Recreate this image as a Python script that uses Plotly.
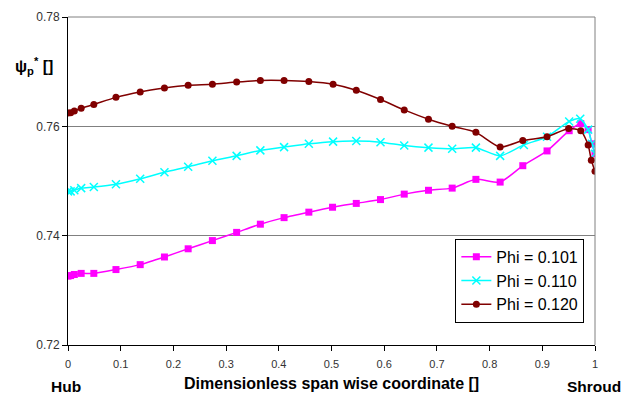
import plotly.graph_objects as go

x_101 = [0.0, 0.005, 0.012, 0.025, 0.049, 0.091, 0.137, 0.183, 0.228, 0.274, 0.320, 0.365, 0.410, 0.457,
         0.502, 0.547, 0.593, 0.638, 0.684, 0.729, 0.774, 0.820, 0.863, 0.909, 0.951, 0.973, 0.987, 0.994, 1.0]
y_101 = [0.7326, 0.7327, 0.7329, 0.7331, 0.7331, 0.7338, 0.7347, 0.7361, 0.7376, 0.7391, 0.7406, 0.7421, 0.7433, 0.7443,
         0.7452, 0.7459, 0.7466, 0.7476, 0.7483, 0.7487, 0.7503, 0.7498, 0.7528, 0.7555, 0.7592, 0.7605, 0.7594, 0.7568, 0.7550]

x_110 = [0.0, 0.005, 0.012, 0.025, 0.049, 0.091, 0.137, 0.183, 0.228, 0.274, 0.320, 0.365, 0.410, 0.457,
         0.503, 0.547, 0.593, 0.638, 0.684, 0.729, 0.774, 0.820, 0.865, 0.909, 0.951, 0.972, 0.987, 0.994, 1.0]
y_110 = [0.7481, 0.7481, 0.7483, 0.7487, 0.7489, 0.7494, 0.7504, 0.7516, 0.7526, 0.7537, 0.7546, 0.7556, 0.7562, 0.7568,
         0.7572, 0.7573, 0.7571, 0.7565, 0.7561, 0.7559, 0.7561, 0.7546, 0.7566, 0.7581, 0.7609, 0.7614, 0.7594, 0.7568, 0.7550]

x_120 = [0.0, 0.005, 0.012, 0.025, 0.049, 0.091, 0.137, 0.183, 0.228, 0.274, 0.320, 0.365, 0.410, 0.457,
         0.503, 0.547, 0.593, 0.638, 0.684, 0.729, 0.774, 0.820, 0.863, 0.909, 0.950, 0.973, 0.987, 0.993, 1.0]
y_120 = [0.76245, 0.7625, 0.7628, 0.7633, 0.7640, 0.7653, 0.7663, 0.7670, 0.7675, 0.7677, 0.7681, 0.7684, 0.7684, 0.7682,
         0.7677, 0.7666, 0.7649, 0.7630, 0.7613, 0.7600, 0.7589, 0.7562, 0.7574, 0.7581, 0.7596, 0.7592, 0.7566, 0.7538, 0.7518]

x_ticks = [0, 0.1, 0.2, 0.3, 0.4, 0.5, 0.6, 0.7, 0.8, 0.9, 1]
x_tick_labels = ["0", "0.1", "0.2", "0.3", "0.4", "0.5", "0.6", "0.7", "0.8", "0.9", "1"]
y_ticks = [0.72, 0.74, 0.76, 0.78]
y_tick_labels = ["0.72", "0.74", "0.76", "0.78"]

fig = go.Figure()
fig.add_trace(go.Scatter(x=x_101, y=y_101, name="Phi = 0.101", mode="lines+markers",
                         line=dict(color="#FF00FF", width=1.5, shape="spline", smoothing=0.6),
                         marker=dict(symbol="square", size=7, color="#FF00FF")))
fig.add_trace(go.Scatter(x=x_110, y=y_110, name="Phi = 0.110", mode="lines+markers",
                         line=dict(color="#00FFFF", width=1.5, shape="spline", smoothing=0.6),
                         marker=dict(symbol="x-thin", size=8, color="#00FFFF",
                                     line=dict(color="#00FFFF", width=1.5))))
fig.add_trace(go.Scatter(x=x_120, y=y_120, name="Phi = 0.120", mode="lines+markers",
                         line=dict(color="#800000", width=1.5, shape="spline", smoothing=0.6),
                         marker=dict(symbol="circle", size=7, color="#800000")))

fig.update_layout(
    width=636, height=396,
    margin=dict(l=68, r=41, t=10, b=51),
    paper_bgcolor="white", plot_bgcolor="white",
    font=dict(family="Arial, Liberation Sans", color="black"),
    xaxis=dict(range=[0, 1], tickvals=x_ticks, ticktext=x_tick_labels, showgrid=False,
               showline=True, linecolor="black", linewidth=1, ticks="outside", ticklen=5,
               ticklabelstandoff=4,
               tickcolor="black", tickfont=dict(size=11, color="#333333"), zeroline=False),
    yaxis=dict(range=[0.72, 0.78], tickvals=y_ticks, ticktext=y_tick_labels, showgrid=True,
               gridcolor="#808080", gridwidth=1, showline=True, linecolor="black", linewidth=1,
               ticks="outside", ticklen=5, tickcolor="black", tickfont=dict(size=12, color="#333333"),
               zeroline=False),
    legend=dict(x=0.735, y=0.324, xanchor="left", yanchor="top", bordercolor="black", borderwidth=1,
                bgcolor="white", font=dict(size=16, color="black"), itemwidth=30, tracegroupgap=0),
    showlegend=True,
)

fig.add_shape(type="line", xref="paper", yref="paper", x0=0, x1=1, y0=1, y1=1,
              line=dict(color="#808080", width=1))
fig.add_shape(type="line", xref="paper", yref="paper", x0=1, x1=1, y0=0, y1=1,
              line=dict(color="#808080", width=1))

fig.add_annotation(text="<b>ψ<sub>p</sub><sup>*</sup> []</b>", xref="paper", yref="paper",
                   x=-0.0645, y=0.851, xanchor="center", yanchor="middle", showarrow=False,
                   font=dict(size=16, color="black"))
fig.add_annotation(text="<b>Dimensionless span wise coordinate []</b>", xref="paper", yref="paper",
                   x=0.5, y=-0.116, xanchor="center", yanchor="middle", showarrow=False,
                   font=dict(size=16, color="black"))
fig.add_annotation(text="<b>Hub</b>", xref="paper", yref="paper",
                   x=-0.003, y=-0.125, xanchor="center", yanchor="middle", showarrow=False,
                   font=dict(size=15.5, color="black"))
fig.add_annotation(text="<b>Shroud</b>", xref="paper", yref="paper",
                   x=0.998, y=-0.125, xanchor="center", yanchor="middle", showarrow=False,
                   font=dict(size=15.5, color="black"))

fig.write_html("out.html")
